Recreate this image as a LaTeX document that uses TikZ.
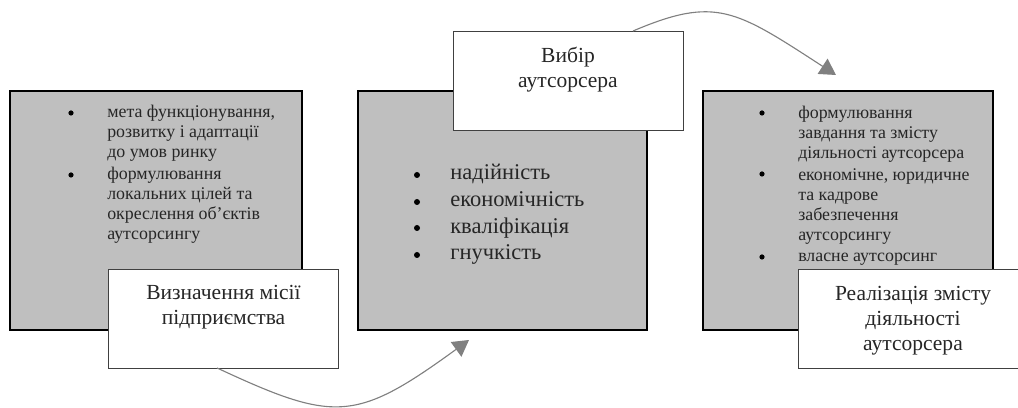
\documentclass[tikz,border=0pt]{standalone}
\usepackage{fontspec}
\setmainfont{Liberation Serif}
\usetikzlibrary{arrows.meta,positioning}
\definecolor{boxGray}{rgb}{0.75,0.75,0.75}
\definecolor{arrowGray}{rgb}{0.5,0.5,0.5}

\tikzset{
  graybox/.style={draw=black, fill=boxGray, line width=2pt, inner sep=0pt, outer sep=0pt, minimum height=5.975cm},
  lblbox/.style={draw=black!75, fill=white, line width=0.6pt, inner sep=0pt, outer sep=0pt, minimum width=5.75cm, minimum height=2.475cm},
  lbltxt/.style={align=center, inner sep=0pt, text=black!85, font=\fontsize{15.3}{18}\selectfont},
  smalltxt/.style={align=left, inner sep=0pt, anchor=base west, text=black!85, font=\fontsize{12.7}{14.4}\selectfont},
  bigtxt/.style={align=left, inner sep=0pt, anchor=base west, text=black!85, font=\fontsize{16}{19}\selectfont},
  flow/.style={draw=arrowGray, line width=0.8pt, -{Triangle[length=0.4cm,width=0.45cm]}}
}

\begin{document}
\begin{tikzpicture}
  \useasboundingbox (0,0) rectangle (25.45,10.2);
  \clip (0,0) rectangle (25.45,10.2);
  % gray blocks
  \node[graybox, minimum width=7.3cm] (M) at (3.9,4.9375) {};
  \node[graybox, line width=1.3pt, minimum width=7.225cm] (V) at (12.5625,4.9375) {};
  \node[graybox, minimum width=7.25cm] (R) at (21.2,4.9375) {};
  % mission (anchored at the last line)
  \node[smalltxt] (M1) at (2.675,6.25) {мета функціонування,\\розвитку і адаптації\\до умов ринку};
  \node[smalltxt] (M2) at (2.675,4.2) {формулювання\\локальних цілей та\\окреслення об’єктів\\аутсорсингу};
  \fill (1.775,7.375) circle (0.065);
  \fill (1.775,5.825) circle (0.065);
  % choice
  \node[bigtxt] (V1) at (11.25,3.7) {надійність\\економічність\\кваліфікація\\гнучкість};
  \foreach \y in {5.825,5.15,4.5,3.825}
    \fill (10.425,\y) circle (0.075);
  % realisation
  \node[smalltxt] (R1) at (19.95,6.225) {формулювання\\завдання та змісту\\діяльності аутсорсера};
  \node[smalltxt] (R2) at (19.95,4.175) {економічне, юридичне\\та кадрове\\забезпечення\\аутсорсингу};
  \node[smalltxt] (R3) at (19.95,3.65) {власне аутсорсинг};
  \fill (19.05,7.375) circle (0.065);
  \fill (19.05,5.85) circle (0.065);
  \fill (19.05,3.775) circle (0.065);
  % labels
  \node[lblbox] (Ml) at (5.5875,2.2375) {};
  \node[lbltxt, below=0.4cm of Ml.north] (Mt) {Визначення місії\\підприємства};
  \node[lblbox] (Vl) at (14.2,8.1875) {};
  \node[lbltxt, below=0.4cm of Vl.north] (Vt) {Вибір\\аутсорсера};
  \node[lblbox] (Rl) at (22.825,2.225) {};
  \node[lbltxt, below=0.4cm of Rl.north] (Rt) {Реалізація змісту\\діяльності\\аутсорсера};
  % arrows
  \coordinate (e1) at ([shift={(2.775,-0.25)}]V.south west);
  \coordinate (e2) at ([shift={(3.325,0.4)}]R.north west);
  \draw[flow] ([xshift=-0.16cm]Ml.south) to[out=-25, in=216, out distance=3.25cm, in distance=3.5cm] (e1);
  \draw[flow] ([xshift=1.625cm]Vl.north) to[out=23, in=147, out distance=2.25cm, in distance=3cm] (e2);
\end{tikzpicture}
\end{document}
